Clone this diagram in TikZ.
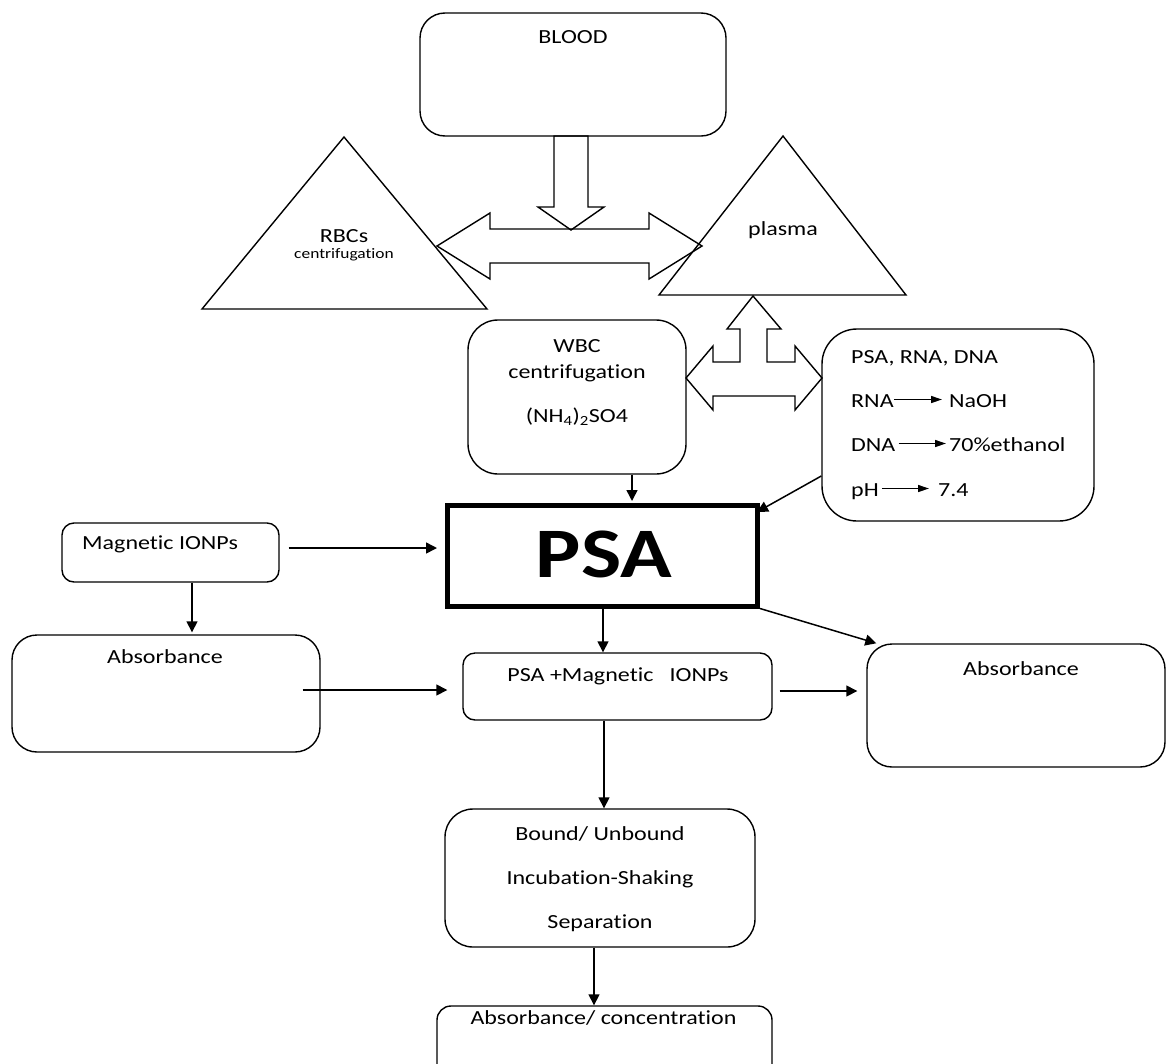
\documentclass[tikz,border=0pt]{standalone}
\usepackage{fontspec}
\setmainfont{Carlito}[FakeStretch=1.2, Ligatures={NoCommon}]
\usetikzlibrary{arrows.meta}

\begin{document}
\begin{tikzpicture}[x=1pt,y=-1pt,
	box/.style={draw, line width=1.4pt, rounded corners=#1, inner sep=0pt},
	box/.default=25pt,
	txt/.style={inner sep=0pt, anchor=base, font=\fontsize{20}{24}\selectfont},
	linetxt/.style={txt, anchor=base west, text height=15pt, text depth=0pt},
	arr/.style={-{Triangle[length=11pt,width=11pt]}, line width=1.5pt},
	inarr/.style={-{Triangle[length=11pt,width=7pt]}, line width=1.3pt},
	block/.style={line width=1.4pt, line join=miter}]

	\useasboundingbox (0,0) rectangle (1166,1063);

	% top part
	\node[box, minimum width=306pt, minimum height=123pt] (blood) at (573,74.5) {};
	\node[txt] (blood text) at (573,43) {BLOOD};

	\draw[block] (202,309) -- (344,137) -- (487,309) -- cycle;
	\node[txt] (rbc text) at (344,242) {RBCs};
	\node[txt, font=\fontsize{14.5}{17}\selectfont] (rbc sub) at (344,258) {centrifugation};

	\draw[block] (659,295) -- (783,136) -- (906,295) -- cycle;
	\node[txt] (plasma text) at (783,235) {plasma};

	\draw[block] (554,136) -- (554,207) -- (538,207) -- (571,230) -- (604,207) -- (588,207) -- (588,136) -- cycle;
	\draw[block] (437,246) -- (490,213) -- (490,229) -- (649,229) -- (649,213) -- (702,246)
		-- (649,279) -- (649,263) -- (490,263) -- (490,279) -- cycle;
	\draw[block] (686,378) -- (713,346) -- (713,362) -- (740,362) -- (740,329) -- (727,329) -- (753,296)
		-- (781,329) -- (767,329) -- (767,362) -- (795,362) -- (795,346) -- (822,378)
		-- (795,410) -- (795,396) -- (713,396) -- (713,410) -- cycle;

	% separation
	\node[box=30pt, minimum width=218pt, minimum height=154pt] (wbc) at (577,397) {};
	\node[txt] at (577,352) {WBC};
	\node[txt] at (577,378) {centrifugation};
	\node[txt] at (577,422) {(NH\textsubscript{4})\textsubscript{2}SO4};

	\node[box=35pt, minimum width=272pt, minimum height=192pt] (dna box) at (958,425) {};
	\node[txt, anchor=base west] (line one) at (851,363) {PSA, RNA, DNA};
	\node[linetxt] (rna) at (851,407) {RNA};
	\node[linetxt] (naoh) at (949,407) {NaOH};
	\node[linetxt] (dna) at (851,451) {DNA};
	\node[linetxt] (ethanol) at (949,451) {70\%ethanol};
	\node[linetxt] (ph) at (851,496) {pH};
	\node[linetxt] (ph value) at (938,496) {7.4};
	\draw[inarr, shorten >=7pt] (rna.east) -- (naoh.west);
	\draw[inarr, shorten <=3pt, shorten >=3pt] (dna.east) -- (ethanol.west);
	\draw[inarr, shorten <=3pt, shorten >=9pt] (ph.east) -- (ph value.west);

	% assay
	\node[draw, line width=5pt, inner sep=0pt, minimum width=310pt, minimum height=100.5pt] (psa) at (602.5,555.75) {};
	\node[txt, font=\fontsize{71}{80}\selectfont\bfseries] (psa text) at (604,577) {PSA};

	\node[box=12pt, minimum width=217pt, minimum height=59pt] (magnet) at (170.5,552.5) {};
	\node[txt, anchor=base west] at (82,549) {Magnetic IONPs};

	\node[box, minimum width=308pt, minimum height=117pt] (abs left) at (166,693.5) {};
	\node[txt] at (165,663) {Absorbance};

	\node[box=12pt, minimum width=309pt, minimum height=67pt] (mix) at (617.5,686.5) {};
	\node[txt] at (618,681) {PSA +Magnetic\ \ \ IONPs};

	\node[box, minimum width=298pt, minimum height=123pt] (abs right) at (1016,705.5) {};
	\node[txt] at (1021,675) {Absorbance};

	\node[box=28pt, minimum width=310pt, minimum height=138pt] (bound) at (600,878) {};
	\node[txt] at (600,840) {Bound/ Unbound};
	\node[txt] at (600,884) {Incubation-Shaking};
	\node[txt] at (600,928) {Separation};

	\node[box=14pt, minimum width=335pt, minimum height=74pt] (final) at (604.5,1043) {};
	\node[txt] at (603.5,1024) {Absorbance/ concentration};

	% connectors
	\draw[arr, shorten >=2pt] ([xshift=55pt]wbc.south) -- ([xshift=55pt]wbc.south |- psa.north);
	\draw[arr] ([yshift=-51pt]dna box.west) -- ([xshift=-3pt,yshift=-9pt]psa.north east);
	\draw[arr, shorten >=8pt] ([xshift=9pt,yshift=4.5pt]magnet.east) -- ([yshift=4.5pt]magnet.east -| psa.west);
	\draw[arr, shorten >=2pt] ([xshift=21.5pt]magnet.south) -- ([xshift=21.5pt]magnet.south |- abs left.north);
	\draw[arr, shorten >=15pt] ([xshift=-18pt,yshift=3.5pt]abs left.east) -- ([yshift=3.5pt]abs left.east -| mix.west);
	\draw[arr] ([xshift=0.5pt]psa.south) -- ([xshift=0.5pt]psa.south |- mix.north);
	\draw[arr] (psa.south east) -- ([xshift=10pt]abs right.north west);
	\draw[arr, shorten <=7pt, shorten >=9pt] ([yshift=-4.5pt]mix.east) -- ([yshift=-4.5pt]mix.east -| abs right.west);
	\draw[arr] ([xshift=-13.5pt]mix.south) -- ([xshift=-13.5pt]mix.south |- bound.north);
	\draw[arr] ([xshift=-6pt]bound.south) -- ([xshift=-6pt]bound.south |- final.north);
\end{tikzpicture}
\end{document}
